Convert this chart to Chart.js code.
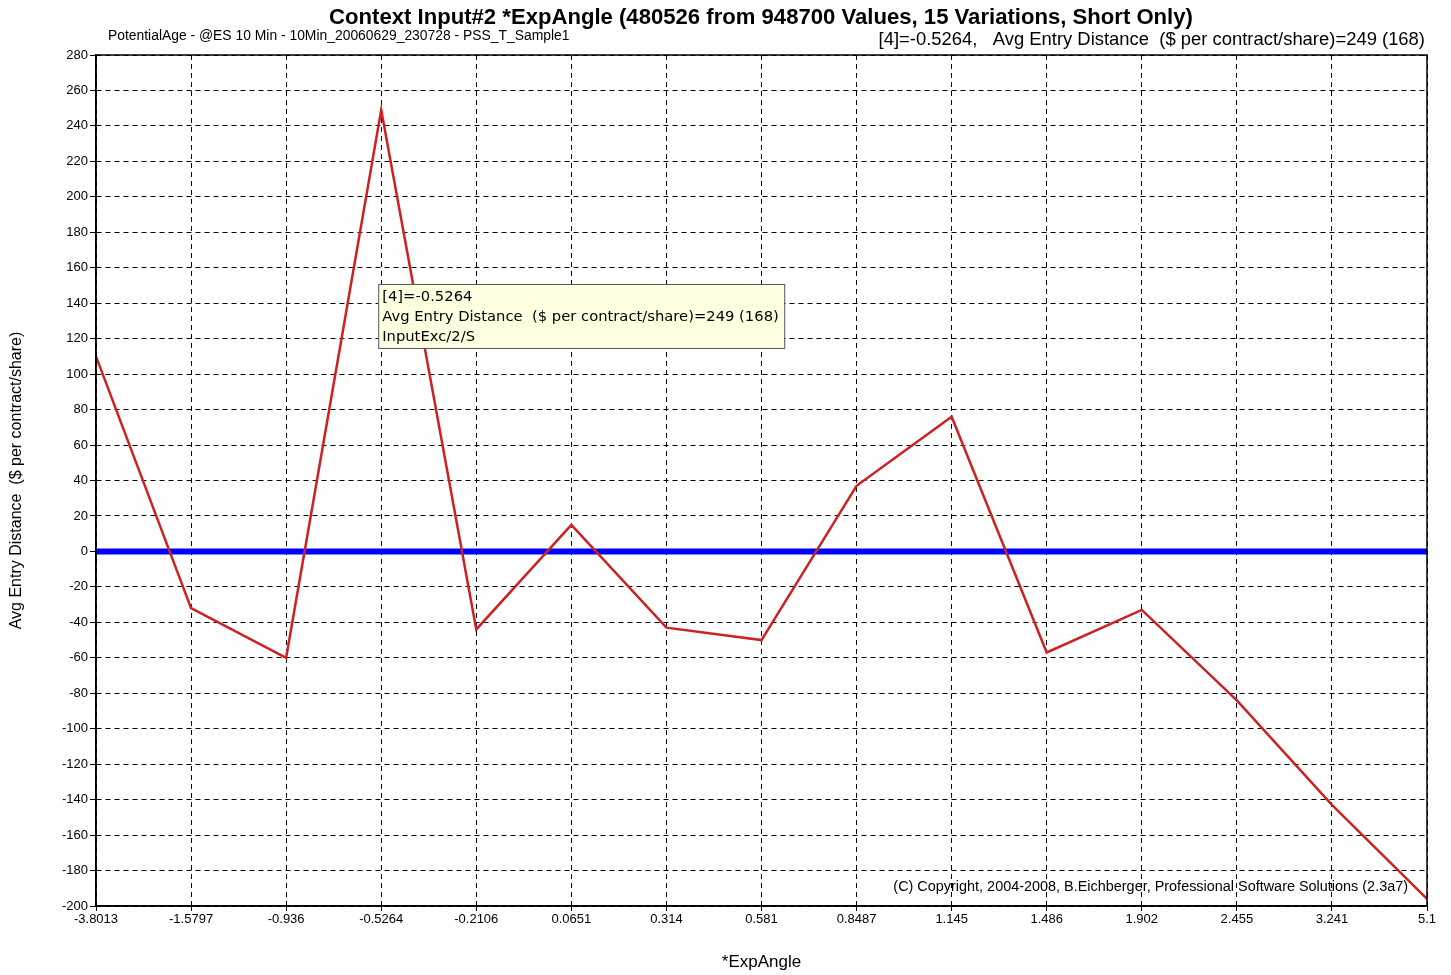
<!DOCTYPE html>
<html>
<head>
<meta charset="utf-8">
<script src="https://cdn.jsdelivr.net/npm/chart.js@4.4.0/dist/chart.umd.min.js"></script>
<style>
  html, body { margin: 0; padding: 0; background: #fff; }
</style>
</head>
<body>
<canvas id="grafico" width="1451" height="975"></canvas>
<script>
// dados
const angulos = ['-3.8013', '-1.5797', '-0.936', '-0.5264', '-0.2106', '0.0651', '0.314', '0.581',
  '0.8487', '1.145', '1.486', '1.902', '2.455', '3.241', '5.1'];
const distancias = [110, -32, -60, 249, -44, 15, -43, -50, 37, 76, -57, -33, -84, -143, -196];
const yMin = -200;
const yMax = 280;
const yPasso = 20;

const titulo = 'Context Input#2 *ExpAngle (480526 from 948700 Values, 15 Variations, Short Only)';
const subEsq = 'PotentialAge - @ES 10 Min - 10Min_20060629_230728 - PSS_T_Sample1';
const subDir = '[4]=-0.5264,   Avg Entry Distance  ($ per contract/share)=249 (168)';
const dica = ['[4]=-0.5264', 'Avg Entry Distance  ($ per contract/share)=249 (168)', 'InputExc/2/S'];
const copyright = '(C) Copyright, 2004-2008, B.Eichberger, Professional Software Solutions (2.3a7)';
const fonte = '"Liberation Sans", Arial, sans-serif';

// ajusta o tamanho da fonte para caber numa largura
function ajustar(ctx, texto, peso, familia, largura) {
  ctx.font = peso + ' 20px ' + familia;
  const w = ctx.measureText(texto).width;
  return 20 * largura / w;
}

const linhaZero = {
  id: 'linhaZero',
  beforeDatasetsDraw(chart) {
    const { ctx, chartArea: a, scales: { y } } = chart;
    const y0 = y.getPixelForValue(0);
    ctx.save();
    ctx.strokeStyle = '#0000ff';
    ctx.lineWidth = 6;
    ctx.beginPath();
    ctx.moveTo(a.left, y0);
    ctx.lineTo(a.right, y0);
    ctx.stroke();
    ctx.restore();
  }
};

const textos = {
  id: 'textos',
  afterDraw(chart) {
    const { ctx, chartArea: a } = chart;
    ctx.save();
    // moldura
    ctx.setLineDash([]);
    ctx.strokeStyle = '#000';
    ctx.lineWidth = 1.5;
    ctx.strokeRect(a.left, a.top, a.right - a.left, a.bottom - a.top);

    ctx.fillStyle = '#000';
    ctx.textBaseline = 'middle';
    let s = ajustar(ctx, titulo, 'bold', fonte, 864);
    ctx.font = 'bold ' + s + 'px ' + fonte;
    ctx.textAlign = 'center';
    ctx.fillText(titulo, 761, 18);

    s = ajustar(ctx, subEsq, 'normal', fonte, 462);
    ctx.font = s + 'px ' + fonte;
    ctx.textAlign = 'left';
    ctx.fillText(subEsq, 108, 36);

    s = ajustar(ctx, subDir, 'normal', fonte, 547);
    ctx.font = s + 'px ' + fonte;
    ctx.textAlign = 'right';
    ctx.fillText(subDir, 1425, 40);

    s = ajustar(ctx, copyright, 'normal', fonte, 515);
    ctx.font = s + 'px ' + fonte;
    ctx.fillText(copyright, 1408, 887);

    // caixa de dica no ponto [4]
    const p = chart.getDatasetMeta(0).data[3];
    const bx = p.x - 3, by = p.y + 174, bw = 406, bh = 64;
    ctx.fillStyle = '#ffffe1';
    ctx.fillRect(bx, by, bw, bh);
    ctx.strokeStyle = '#555';
    ctx.lineWidth = 1;
    ctx.strokeRect(bx + 0.5, by + 0.5, bw, bh);
    const fd = '"DejaVu Sans", Tahoma, sans-serif';
    s = ajustar(ctx, dica[1], 'normal', fd, 397);
    ctx.font = s + 'px ' + fd;
    ctx.fillStyle = '#000';
    ctx.textAlign = 'left';
    dica.forEach((t, i) => ctx.fillText(t, bx + 4, by + 13 + i * 20));
    ctx.restore();
  }
};

const ctx = document.getElementById('grafico').getContext('2d');
const myChart = new Chart(ctx, {
  type: 'line',
  data: {
    labels: angulos,
    datasets: [
      {
        label: 'Avg Entry Distance',
        data: distancias,
        borderColor: 'rgb(204, 34, 34)',
        borderWidth: 2.5,
        pointRadius: 0,
        tension: 0,
        fill: false
      }
    ]
  },
  options: {
    responsive: false,
    animation: false,
    layout: { padding: { top: 55, right: 24, left: 0, bottom: 0 } },
    plugins: {
      legend: { display: false },
      tooltip: { enabled: false }
    },
    scales: {
      x: {
        offset: false,
        afterFit(scale) { scale.height = 69; },
        grid: {
          color: '#000',
          lineWidth: 1,
          tickBorderDash: [],
          tickColor: '#000',
          tickLength: 5
        },
        border: { display: true, color: '#000', width: 1.5, dash: [5, 4] },
        ticks: {
          color: '#000',
          font: { family: fonte, size: 13 },
          padding: 1,
          maxRotation: 0,
          autoSkip: false
        },
        title: {
          display: true,
          text: '*ExpAngle',
          color: '#000',
          font: { family: fonte, size: 17 },
          padding: { top: 0, bottom: 2 }
        }
      },
      y: {
        min: yMin,
        max: yMax,
        afterFit(scale) { scale.width = 96; },
        grid: {
          color: '#000',
          lineWidth: 1,
          tickBorderDash: [],
          tickColor: '#000',
          tickLength: 6
        },
        border: { display: true, color: '#000', width: 1.5, dash: [5, 4] },
        ticks: {
          stepSize: yPasso,
          color: '#000',
          font: { family: fonte, size: 13 },
          padding: 2
        },
        title: {
          display: true,
          text: 'Avg Entry Distance  ($ per contract/share)',
          color: '#000',
          font: { family: fonte, size: 16 },
          padding: { top: 7, bottom: 0 }
        }
      }
    }
  },
  plugins: [linhaZero, textos]
});
</script>
</body>
</html>
